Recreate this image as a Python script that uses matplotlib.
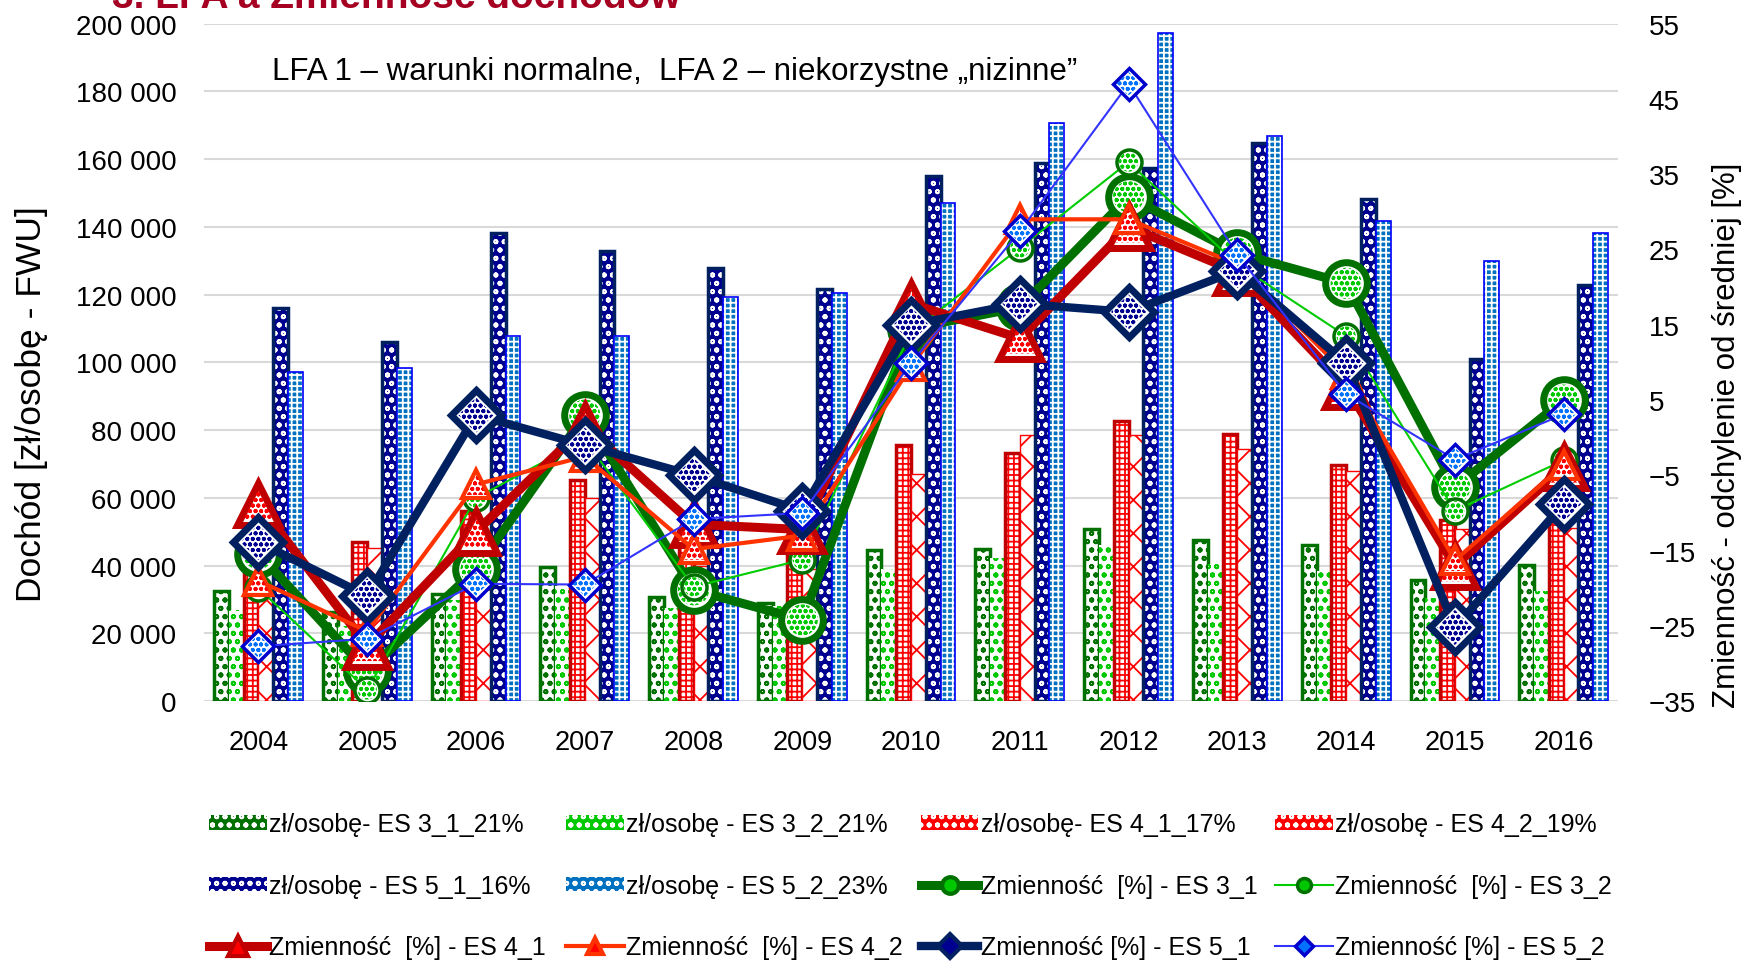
import matplotlib
matplotlib.use("Agg")
import matplotlib.pyplot as plt
import numpy as np
from matplotlib.lines import Line2D
from matplotlib.patches import Patch
from matplotlib.ticker import FuncFormatter

plt.rcParams['font.family'] = ['Liberation Sans', 'DejaVu Sans']
plt.rcParams['hatch.linewidth'] = 1.3

years = [str(y) for y in range(2004, 2017)]

# dochód zł/osobę (left axis)
es31 = [32600, 26400, 31800, 39700, 30900, 29000, 44700, 44900, 50800, 47500, 46200, 35800, 40100]
es32 = [27000, 22200, 30000, 33900, 27400, 28000, 39100, 42300, 46200, 40600, 38400, 30600, 32600]
es41 = [53400, 47100, 56200, 65300, 47000, 45600, 75700, 73200, 82600, 79000, 69600, 53400, 55000]
es42 = [34000, 45200, 37000, 60100, 40000, 39000, 67000, 78700, 78700, 74500, 67900, 50800, 51000]
es51 = [116000, 106000, 138200, 133000, 127900, 121600, 154900, 158800, 157300, 164700, 148200, 101000, 122900]
es52 = [97100, 98200, 107700, 107900, 119400, 120600, 147100, 170600, 197100, 166800, 141700, 130000, 138200]

# zmienność [%] (right axis)
z31 = [-15.4, -31.0, -17.5, 3.0, -20.2, -24.2, 14.5, 17.3, 32.0, 24.5, 20.5, -6.6, 5.0]
z32 = [-20.0, -33.5, -8.0, -0.3, -19.8, -16.2, 14.0, 25.2, 36.6, 23.0, 13.5, -9.7, -3.0]
z41 = [-8.8, -27.6, -12.5, 1.5, -11.5, -12.2, 17.8, 13.2, 28.0, 22.0, 6.8, -17.0, -3.9]
z42 = [-19.0, -25.7, -6.2, -2.5, -14.8, -13.0, 9.5, 29.0, 29.0, 23.0, 8.5, -16.3, -3.6]
z51 = [-13.9, -21.0, 3.0, -1.0, -5.0, -9.7, 15.0, 17.8, 16.7, 22.2, 9.9, -25.2, -8.8]
z52 = [-27.7, -26.7, -19.4, -19.5, -10.8, -10.0, 9.9, 27.4, 47.0, 24.3, 5.8, -2.9, 3.1]

bar_labels = ["zł/osobę- ES 3_1_21%", "zł/osobę - ES 3_2_21%", "zł/osobę- ES 4_1_17%",
              "zł/osobę - ES 4_2_19%", "zł/osobę - ES 5_1_16%", "zł/osobę - ES 5_2_23%"]
line_labels = ["Zmienność  [%] - ES 3_1", "Zmienność  [%] - ES 3_2", "Zmienność  [%] - ES 4_1",
               "Zmienność  [%] - ES 4_2", "Zmienność [%] - ES 5_1", "Zmienność [%] - ES 5_2"]

# face, hatch colour, hatch, edge colour, edge width
bar_styles = [
    ("white", "#007000", "oo", "#007000", 2.5),
    ("white", "#00c800", "oo", "none", 0),
    ("white", "#ff0000", "+++", "#c00000", 2.5),
    ("white", "#ff0000", "x", "#ff0000", 1.0),
    ("#000090", "white", "oo", "#002060", 2.5),
    ("#0070c0", "white", "+++", "#0000ff", 1.2),
]
# line colour, lw, marker, ms, mec, mew, hatch colour, legend ms
line_styles = [
    ("#007000", 6.5, "o", 30, "#007000", 5, "#00c800", 12),
    ("#00cc00", 1.5, "o", 18, "#007000", 2.5, "#00c800", 10),
    ("#c00000", 6.5, "^", 30, "#c00000", 5, "#ff0000", 14),
    ("#ff3300", 3.0, "^", 20, "#ff3300", 3, "#ff0000", 11),
    ("#002060", 6.0, "D", 25, "#002060", 5, "#000090", 12),
    ("#3333ff", 1.5, "D", 16, "#0000cc", 2.5, "#0070ff", 9),
]

fig = plt.figure(figsize=(17.5, 9.62), dpi=100)
ax = fig.add_axes([0.1166, 0.270, 0.808, 0.7045])
ax2 = ax.twinx()

x = np.arange(len(years))
w = 0.136
bars = [es31, es32, es41, es42, es51, es52]
for i, (vals, st) in enumerate(zip(bars, bar_styles)):
    face, hc, hatch, ec, lw = st
    pos = x + (i - 2.5) * w
    ax.bar(pos, vals, w, color=face, edgecolor=hc, hatch=hatch, linewidth=0, zorder=2)
    if lw > 0:
        ax.bar(pos, vals, w, fill=False, edgecolor=ec, linewidth=lw, zorder=2)

lines = [z31, z32, z41, z42, z51, z52]
for i, (vals, st) in enumerate(zip(lines, line_styles)):
    c, lw, m, ms, mec, mew, hc, _ = st
    ax2.plot(x, vals, color=c, lw=lw, marker=m, ms=ms, mfc="white", mec=mec, mew=mew,
             zorder=3 + 2 * i)
    # patterned marker fill
    ax2.scatter(x, vals, s=(ms - mew) ** 2 * 0.8, marker=m, facecolor="none", edgecolors=hc,
                linewidths=0, hatch="ooo", zorder=4 + 2 * i)

ax.set_xlim(-0.5, len(years) - 0.5)
ax.set_ylim(0, 200000)
ax.set_yticks(range(0, 200001, 20000))
ax.yaxis.set_major_formatter(FuncFormatter(lambda v, p: f"{int(v):,}".replace(",", " ")))
ax.set_xticks(x)
ax.set_xticklabels(years)
ax2.set_ylim(-35, 55)
ax2.set_yticks(range(-35, 56, 10))

ax.yaxis.grid(True, color="#d9d9d9", lw=1.5)
ax.set_axisbelow(True)
for a in (ax, ax2):
    for s in a.spines.values():
        s.set_visible(False)
ax.tick_params(axis="y", length=0, pad=20, labelsize=20)
ax.tick_params(axis="x", length=0, pad=20, labelsize=19.5)
ax2.tick_params(axis="y", length=0, pad=22, labelsize=20)

fig.text(0.018, 0.580, "Dochód [zł/osobę - FWU]", rotation=90, ha="center", va="center", fontsize=25.5)
fig.text(0.987, 0.547, "Zmienność - odchylenie od średniej [%]", rotation=90, ha="center",
         va="center", fontsize=22.5)
ax.text(0.048, 0.930, "LFA 1 – warunki normalne,  LFA 2 – niekorzystne „nizinne”",
        transform=ax.transAxes, ha="left", va="center", fontsize=22.5)
fig.text(0.064, 0.9917, "3. LFA a Zmienność dochodów", ha="left", va="baseline", fontsize=28,
         fontweight="bold", color="#a50021")

# legend: 4 columns, 3 rows (row-wise order as in the source)
handles = []
for st in bar_styles:
    face, hc, hatch, ec, lw = st
    if face == "white":
        handles.append(Patch(facecolor=hc, edgecolor="white", hatch="oo", linewidth=0))
    else:
        handles.append(Patch(facecolor=face, edgecolor="white", hatch="oo", linewidth=0))
for st in line_styles:
    c, lw, m, ms, mec, mew, hc, lms = st
    handles.append(Line2D([], [], color=c, lw=lw, marker=m, ms=lms, mfc=hc, mec=mec,
                          mew=min(mew, 3)))
labels = bar_labels + line_labels

col_x = [209, 566, 921, 1275]
for c in range(4):
    idx = [c, c + 4, c + 8]
    fig.legend([handles[k] for k in idx], [labels[k] for k in idx], loc="upper left",
               bbox_to_anchor=(col_x[c] / 1750, 0.1545), frameon=False, fontsize=18,
               handlelength=2.3, handleheight=0.5, handletextpad=0.1, labelspacing=1.5,
               borderpad=0, borderaxespad=0)

fig.savefig("out.png", dpi=100)
